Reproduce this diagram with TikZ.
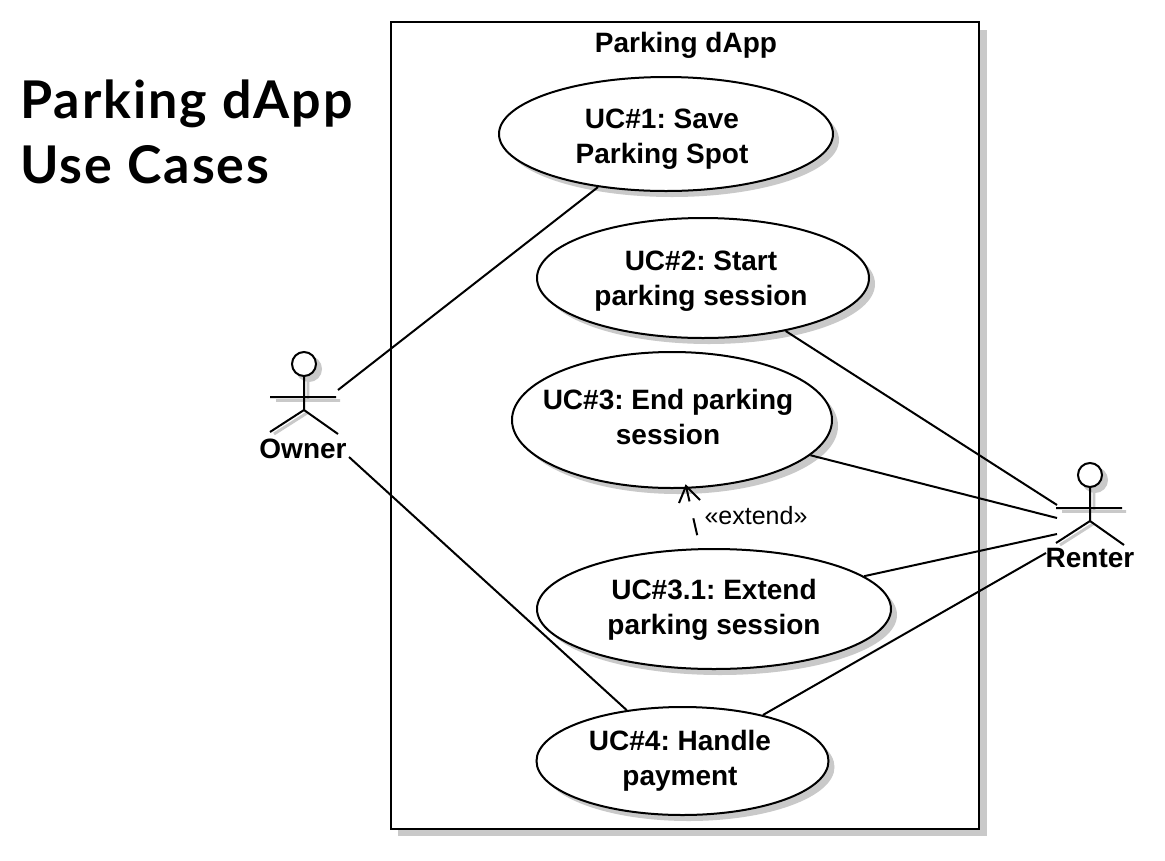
\documentclass[tikz,border=0pt]{standalone}
\usepackage{fontspec}
\usetikzlibrary{shapes.geometric,arrows.meta,calc}
\setmainfont{Liberation Sans}
\newfontfamily\titlefont{Lato}[LetterSpace=3.9]
\definecolor{shadowgray}{HTML}{C9C9C9}
\frenchspacing
\tikzset{
  x=0.75pt,y=-0.75pt,
  line/.style={draw=black,line width=1.5pt},
  uc/.style={ellipse,draw=black,line width=1.5pt,fill=white,inner sep=0pt},
  uctext/.style={font=\fontsize{21}{26.3}\selectfont\bfseries,align=center,inner sep=0pt},
  actortext/.style={font=\fontsize{21}{26}\selectfont\bfseries,inner sep=0pt},
  conn/.style={line},
  bigtitle/.style={font=\fontsize{39}{48.75}\selectfont\titlefont\bfseries,align=left,inner sep=0pt},
  actorfig/.pic={
    \draw[shadowgray,line width=1.5pt,fill=shadowgray] (5,-28) circle[radius=12];
    \draw[shadowgray,line width=2.2pt] (-28,3.5) -- (36,3.5) (-30,37) -- (3,16) (4,-16) -- (4,3);
    \draw[line,fill=white] (0,-33) circle[radius=12];
    \draw[line] (0,-21) -- (0,13) (-34,0) -- (32,0) (-34,35) -- (0,13) -- (34,37);
  }
}
\begin{document}
\begin{tikzpicture}
\useasboundingbox (0,0) rectangle (1165,861);
\fill[white] (0,0) rectangle (1165,861);
% system boundary
\fill[shadowgray] (398,30) rectangle (987,836);
\node[draw=black,line width=1.5pt,fill=white,minimum width=588*0.75pt,minimum height=807*0.75pt,inner sep=0pt] (sys) at (685,425) {};
\node[font=\fontsize{21}{26}\selectfont\bfseries,inner sep=0pt] (systitle) at (686,45) {Parking dApp};
% title
\node[bigtitle,anchor=base west] (title) at (20,183) {Parking dApp\\Use Cases};
% shadows
\foreach \cx/\cy/\rx/\ry in {666/134/167/57,703/278/166/60,672/420/160/68,714/609/177/60,682.5/761/146/54}
  \fill[shadowgray] (\cx+6,\cy+6) ellipse[x radius=\rx*0.75pt,y radius=\ry*0.75pt];
% actors
\pic at (304,397) {actorfig};
\pic at (1090,508) {actorfig};
\node[actortext] (owner) at (303,449) {Owner};
\node[actortext] (renter) at (1090,558) {Renter};
% connector ends at actors
\coordinate (ownerA) at (338,390);
\coordinate (ownerB) at (349,457);
\coordinate (renterA) at (1057,505);
\coordinate (renterB) at (1057,518);
\coordinate (renterC) at (1057,534);
\coordinate (renterD) at (1046,553);
% use cases
\node[uc,minimum width=334*0.75pt,minimum height=114*0.75pt] (uc1) at (666,134) {};
\node[uc,minimum width=332*0.75pt,minimum height=120*0.75pt] (uc2) at (703,278) {};
\node[uc,minimum width=320*0.75pt,minimum height=136*0.75pt] (uc3) at (672,420) {};
\node[uc,minimum width=354*0.75pt,minimum height=120*0.75pt] (uc31) at (714,609) {};
\node[uc,minimum width=292*0.75pt,minimum height=108*0.75pt] (uc4) at (682.5,761) {};
\node[uctext] (t1) at (662,139) {UC\#1: Save\\Parking Spot};
\node[uctext] (t2) at (701,281.5) {UC\#2: Start\\parking session};
\node[uctext] (t3) at (668,417) {UC\#3: End parking\\session};
\node[uctext] (t31) at (714,610) {UC\#3.1: Extend\\parking session};
\node[uctext] (t4) at (680,760.5) {UC\#4: Handle\\payment};
% connectors
\draw[conn] (ownerA) -- (uc1);
\draw[conn] (ownerB) -- (uc4);
\draw[conn] (renterA) -- (uc2);
\draw[conn] (renterB) -- (uc3);
\draw[conn] (renterC) -- (uc31);
\draw[conn] (renterD) -- (uc4);
% extend dependency with open arrowhead
\coordinate (tip) at (686,486);
\coordinate (barbL) at (679,503);
\coordinate (barbR) at (700,500);
\draw[conn,dash pattern=on 13pt off 13pt,dash phase=16pt] (uc31) -- (tip);
\draw[conn,line join=miter] (barbL) -- (tip) -- (barbR);
\node[font=\fontsize{18.75}{22}\selectfont,inner sep=0pt] (ext) at (756,516) {«extend»};
\end{tikzpicture}
\end{document}
